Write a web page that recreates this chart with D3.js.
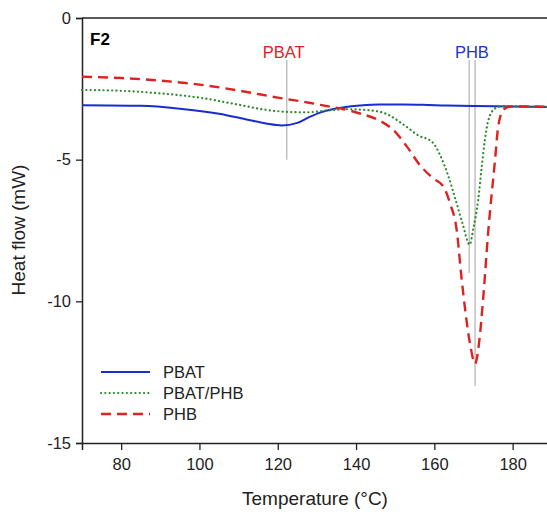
<!DOCTYPE html>
<html>
  <head>
    <meta charset="UTF-8">
    <script src="https://cdn.jsdelivr.net/npm/d3@7/dist/d3.min.js"></script>
    <style>
      body { margin: 0; background: #fff; }
      text { font-family: "Liberation Sans", Arial, sans-serif; }
    </style>
  </head>
  <body>
    <svg width="547" height="514"></svg>

    <script type="text/javascript">
      // DSC curves (temperature in °C, heat flow in mW)
      var pbatT = [70, 85, 95, 105, 112, 117, 121, 125, 128, 131, 134, 137, 141, 146, 152, 157, 163, 170, 180, 190];
      var pbatV = [-3.08, -3.10, -3.20, -3.38, -3.58, -3.72, -3.79, -3.70, -3.50, -3.33, -3.22, -3.15, -3.09, -3.05, -3.05, -3.06, -3.09, -3.11, -3.12, -3.14];

      var blendT = [70, 80, 90, 100, 110, 117, 122, 127, 133, 138, 143, 148, 152, 156, 159.5, 161.5, 163.5, 165.5, 167.3, 169, 170, 171.2, 172.1, 172.9, 173.8, 175.5, 177, 180, 190];
      var blendV = [-2.54, -2.57, -2.66, -2.81, -3.06, -3.24, -3.31, -3.33, -3.26, -3.22, -3.25, -3.40, -3.75, -4.15, -4.38, -4.85, -5.55, -6.45, -7.30, -8.00, -7.40, -6.42, -5.25, -4.31, -3.60, -3.19, -3.12, -3.12, -3.14];

      var phbT = [70, 80, 90, 100, 110, 120, 128, 133, 137, 141, 146, 149.5, 153, 156.3, 159.7, 162.3, 164, 165.7, 167, 169.1, 170.4, 171.5, 172.5, 173.8, 175.5, 176.3, 177.6, 179, 182, 190];
      var phbV = [-2.07, -2.12, -2.21, -2.35, -2.56, -2.81, -2.99, -3.12, -3.22, -3.37, -3.62, -3.95, -4.54, -5.19, -5.66, -5.95, -6.54, -7.48, -9.25, -11.48, -12.20, -11.37, -9.84, -7.48, -5.01, -3.84, -3.25, -3.13, -3.12, -3.13];

      var seriesNames = ['PBAT', 'PBAT/PHB', 'PHB'];

      // peak markers
      var markerT = [122.3, 168.9, 170.4];
      var markerTop = [-1.48, -1.48, -1.48];
      var markerBottom = [-5.0, -9.0, -13.0];
      var peakLabels = ['PBAT', 'PHB'];
      var peakLabelT = [121.5, 169.6];

      var xTicks = [80, 100, 120, 140, 160, 180];
      var yTicks = [0, -5, -10, -15];

      var margin = { left: 82, top: 18 };
      var svg = d3.select('svg');

      var x = d3.scaleLinear().domain([70, 190]).range([margin.left, margin.left + 120 * 3.915]);
      var y = d3.scaleLinear().domain([-15, 0]).range([443, 18]);

      var styles = [
        { color: '#1a2bd0', width: 2, dash: null },
        { color: '#2a8a2a', width: 2.2, dash: '0.1,4.2', cap: 'round' },
        { color: '#dd2222', width: 2.4, dash: '10,6' }
      ];

      function zip(ts, vs) {
        return ts.map(function(t, i) { return [t, vs[i]]; });
      }
      var series = [zip(pbatT, pbatV), zip(blendT, blendV), zip(phbT, phbV)];

      // frame: top line
      svg.append('line')
        .attr('x1', x(70)).attr('x2', x(190))
        .attr('y1', y(0)).attr('y2', y(0))
        .style('stroke', '#222').style('stroke-width', 1.5);

      // axes
      var xAxis = svg.append('g')
        .attr('transform', 'translate(0,' + y(-15) + ')')
        .call(d3.axisBottom(x).tickValues(xTicks).tickSizeOuter(0).tickSize(7).tickPadding(8));
      var yAxis = svg.append('g')
        .attr('transform', 'translate(' + x(70) + ',0)')
        .call(d3.axisLeft(y).tickValues(yTicks).tickSizeOuter(0).tickSize(6).tickPadding(5)
          .tickFormat(function(d) { return d; }));

      [xAxis, yAxis].forEach(function(g) {
        g.select('.domain').style('stroke', '#222').style('stroke-width', 1.5);
        g.selectAll('.tick line').style('stroke', '#222').style('stroke-width', 1.3);
        g.selectAll('.tick text').style('font-size', '16.5px').style('fill', '#222')
          .style('font-family', '"Liberation Sans", Arial, sans-serif');
      });

      // grey peak markers
      svg.selectAll('line.marker').data(markerT).enter()
        .append('line')
        .attr('class', 'marker')
        .attr('x1', function(d) { return x(d); })
        .attr('x2', function(d) { return x(d); })
        .attr('y1', function(d, i) { return y(markerTop[i]); })
        .attr('y2', function(d, i) { return y(markerBottom[i]); })
        .style('stroke', '#b8b8b8').style('stroke-width', 1.3);

      svg.selectAll('text.peak').data(peakLabels).enter()
        .append('text')
        .attr('class', 'peak')
        .attr('x', function(d, i) { return x(peakLabelT[i]); })
        .attr('y', 58)
        .attr('text-anchor', 'middle')
        .style('font-size', '16.5px')
        .style('fill', function(d, i) { return i == 0 ? '#dd2222' : '#2233cc'; })
        .text(function(d) { return d; });

      // curves
      var line = d3.line()
        .x(function(d) { return x(d[0]); })
        .y(function(d) { return y(d[1]); })
        .curve(d3.curveMonotoneX);

      svg.selectAll('path.curve').data(series).enter()
        .append('path')
        .attr('class', 'curve')
        .attr('d', line)
        .style('fill', 'none')
        .style('stroke', function(d, i) { return styles[i].color; })
        .style('stroke-width', function(d, i) { return styles[i].width; })
        .style('stroke-dasharray', function(d, i) { return styles[i].dash; })
        .style('stroke-linecap', function(d, i) { return styles[i].cap || 'butt'; });

      // panel label
      svg.append('text')
        .attr('x', 90).attr('y', 45)
        .style('font-size', '17px').style('font-weight', 'bold')
        .text('F2');

      // legend
      var legend = svg.selectAll('g.legend').data(seriesNames).enter()
        .append('g')
        .attr('class', 'legend')
        .attr('transform', function(d, i) { return 'translate(0,' + (372 + i * 21) + ')'; });
      legend.append('line')
        .attr('x1', 101).attr('x2', 150)
        .style('stroke', function(d, i) { return styles[i].color; })
        .style('stroke-width', function(d, i) { return styles[i].width; })
        .style('stroke-dasharray', function(d, i) { return styles[i].dash; })
        .style('stroke-linecap', function(d, i) { return styles[i].cap || 'butt'; });
      legend.append('text')
        .attr('x', 163).attr('y', 6)
        .style('font-size', '16.5px').style('fill', '#222')
        .text(function(d) { return d; });

      // axis titles
      svg.append('text')
        .attr('x', 315).attr('y', 505)
        .attr('text-anchor', 'middle')
        .style('font-size', '19px').style('fill', '#222')
        .text('Temperature (°C)');
      svg.append('text')
        .attr('transform', 'translate(25,230) rotate(-90)')
        .attr('text-anchor', 'middle')
        .style('font-size', '19px').style('fill', '#222')
        .text('Heat flow (mW)');
    </script>
  </body>
</html>
